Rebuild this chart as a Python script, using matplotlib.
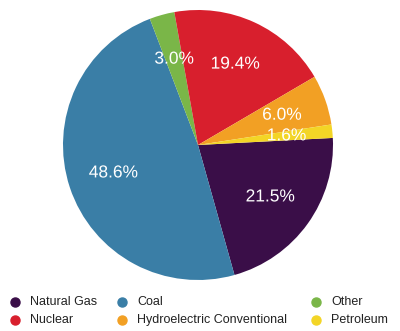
import matplotlib.pyplot as plt
import matplotlib.patheffects as pe
from matplotlib.lines import Line2D

# Share of electricity generation by source (percent)
sources = ["Natural Gas", "Coal", "Other", "Nuclear",
           "Hydroelectric Conventional", "Petroleum"]
shares = [21.5, 48.6, 3.0, 19.4, 6.0, 1.6]
colors = ["#3a0e48", "#3a7ea6", "#7ab648", "#d81f2d", "#f2a024", "#f3d526"]

# legend layout: order as shown in the picture (row by row)
legend_order = ["Natural Gas", "Coal", "Other",
                "Nuclear", "Hydroelectric Conventional", "Petroleum"]

plt.rcParams["font.family"] = ["Liberation Sans", "DejaVu Sans"]

fig = plt.figure(figsize=(4.0, 3.31), dpi=100)
cx, cy, rad = 198, 145, 135  # pie centre / radius in pixels
ax = fig.add_axes([(cx - rad) / 400, 1 - (cy + rad) / 331, 2 * rad / 400, 2 * rad / 331])

wedges, texts, autotexts = ax.pie(
    shares,
    colors=colors,
    startangle=3,
    counterclock=False,
    autopct="%.1f%%",
    pctdistance=0.66,
    wedgeprops={"linewidth": 0},
    textprops={"color": "white", "fontsize": 12.5},
)

for t in autotexts:
    t.set_path_effects([pe.SimpleLineShadow(offset=(1, -1), shadow_color="black", alpha=0.5),
                        pe.Normal()])

ax.set_xlim(-1, 1)
ax.set_ylim(-1, 1)
ax.set_aspect("equal")
ax.axis("off")

# legend drawn manually to match column spacing
col_x = [15, 122, 316]
row_y = [302, 320]
for i, name in enumerate(legend_order):
    r, c = divmod(i, 3)
    color = colors[sources.index(name)]
    xm = col_x[c] / 400
    ym = 1 - row_y[r] / 331
    fig.add_artist(Line2D([xm], [ym], marker="o", markersize=6.5, color=color,
                          linestyle="none", transform=fig.transFigure))
    fig.text(xm + 15 / 400, ym, name, fontsize=9, color="#222222",
             va="center", ha="left")

fig.savefig("out.png", dpi=100)
